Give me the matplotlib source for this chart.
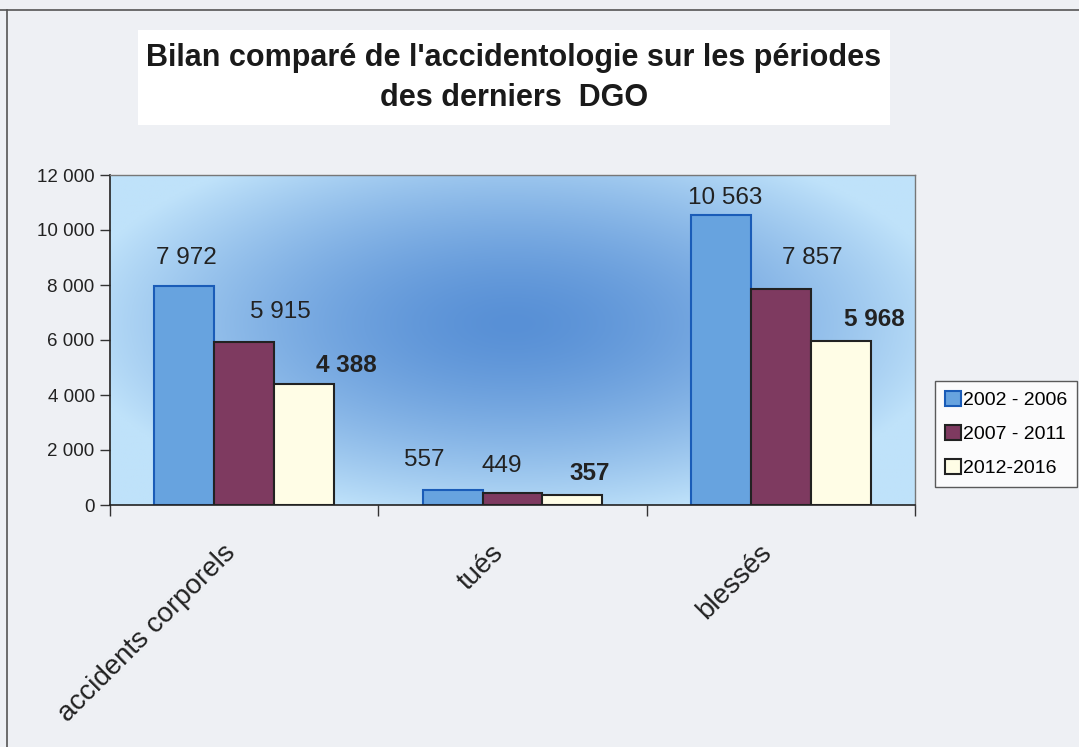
import numpy as np
import matplotlib
matplotlib.use("Agg")
import matplotlib.pyplot as plt
import matplotlib.transforms as mtransforms
from matplotlib.patches import Rectangle
from matplotlib.lines import Line2D

plt.rcParams['font.family'] = ['Liberation Sans', 'DejaVu Sans']

categories = ["accidents corporels", "tués", "blessés"]
periods = ["2002 - 2006", "2007 - 2011", "2012-2016"]
v_2002_2006 = [7972, 557, 10563]
v_2007_2011 = [5915, 449, 7857]
v_2012_2016 = [4388, 357, 5968]
series = [v_2002_2006, v_2007_2011, v_2012_2016]

colors = ["#67a3df", "#7e3a60", "#fffde6"]
edges = ["#1a5cb8", "#222222", "#222222"]
# label placement tweaks (pixels), mimics the excel layout
label_dx = [[2, -28, 4], [36, -11, 31], [42, 17, 34]]
label_dy = [[28, 30, 17], [30, 27, 31], [19, 22, 21]]

fig = plt.figure(figsize=(10.79, 7.47), dpi=100)
fig.patch.set_facecolor("#eef0f4")

# page borders
fig.add_artist(Line2D([0, 1], [1 - 10 / 747] * 2, color="#555555", lw=1.2, transform=fig.transFigure))
fig.add_artist(Line2D([7 / 1079] * 2, [0, 1 - 10 / 747], color="#555555", lw=1.2, transform=fig.transFigure))

# title box
fig.add_artist(Rectangle((138 / 1079, 1 - 125 / 747), 752 / 1079, 95 / 747,
                         transform=fig.transFigure, facecolor="white", edgecolor="none"))
fig.text(514 / 1079, 1 - 58 / 747, "Bilan comparé de l'accidentologie sur les périodes",
         ha="center", va="center", fontsize=22, fontweight="bold", color="#1a1a1a")
fig.text(514 / 1079, 1 - 98 / 747, "des derniers  DGO",
         ha="center", va="center", fontsize=22, fontweight="bold", color="#1a1a1a")

ax = fig.add_axes([110 / 1079, 1 - 505 / 747, 805 / 1079, 330 / 747])

# radial gradient background
gx, gy = np.meshgrid(np.linspace(0, 1, 400), np.linspace(0, 1, 200))
r = np.sqrt(((gx - 0.5) / 0.55) ** 2 + ((gy - 0.55) / 0.6) ** 2)
t = np.clip(r, 0, 1) ** 1.5
c_in = np.array([0x58, 0x90, 0xd6]) / 255
c_out = np.array([0xbf, 0xe2, 0xfa]) / 255
img = c_in[None, None, :] * (1 - t[..., None]) + c_out[None, None, :] * t[..., None]
ax.imshow(img, extent=[0, 1, 0, 1], transform=ax.transAxes, aspect="auto", origin="lower", zorder=0)

x = np.arange(len(categories))
w = 0.223
for i, vals in enumerate(series):
    bars = ax.bar(x + (i - 1) * w, vals, w, color=colors[i], edgecolor=edges[i],
                  linewidth=1.5, label=periods[i], zorder=2)
    for j, b in enumerate(bars):
        txt = f"{vals[j]:,}".replace(",", " ")
        ax.annotate(txt, (b.get_x() + b.get_width() / 2, b.get_height()),
                    xytext=(label_dx[i][j], label_dy[i][j]), textcoords="offset pixels",
                    ha="center", va="center", fontsize=17.5,
                    fontweight="bold" if i == 2 else "normal", color="#222222", zorder=3)

ax.set_xlim(-0.5, 2.5)
ax.set_ylim(0, 12000)
ax.set_yticks(np.arange(0, 12001, 2000))
ax.set_yticklabels([f"{v:,}".replace(",", " ") for v in range(0, 12001, 2000)], fontsize=13.5, color="#222222")
ax.tick_params(axis="y", direction="out", length=7, width=1, color="#333333", pad=4)

ax.set_xticks(x)
ax.set_xticklabels(categories, rotation=45, ha="right", rotation_mode="anchor", fontsize=20, color="#222222")
ax.tick_params(axis="x", which="major", length=0, pad=22)
shift = mtransforms.ScaledTranslation(-22 / 100, -4 / 100, fig.dpi_scale_trans)
for lab in ax.get_xticklabels():
    lab.set_transform(lab.get_transform() + shift)
ax.set_xticks([-0.5, 0.5, 1.5, 2.5], minor=True)
ax.tick_params(axis="x", which="minor", direction="out", length=8, width=1, color="#333333")

for s in ["top", "right"]:
    ax.spines[s].set_color("#777777")
    ax.spines[s].set_linewidth(1)
ax.spines["left"].set_color("#222222")
ax.spines["bottom"].set_color("#222222")
ax.spines["left"].set_linewidth(1.2)
ax.spines["bottom"].set_linewidth(1.2)

leg = fig.legend(loc="upper left", bbox_to_anchor=(935 / 1079, 1 - 381 / 747), fontsize=14,
                 frameon=True, fancybox=False, edgecolor="#333333", facecolor="white",
                 handlelength=0.85, handleheight=0.85, handletextpad=0.1, labelspacing=0.8,
                 borderpad=0.5, borderaxespad=0)
leg.get_frame().set_linewidth(1)

fig.savefig("out.png", dpi=100, facecolor=fig.get_facecolor())
